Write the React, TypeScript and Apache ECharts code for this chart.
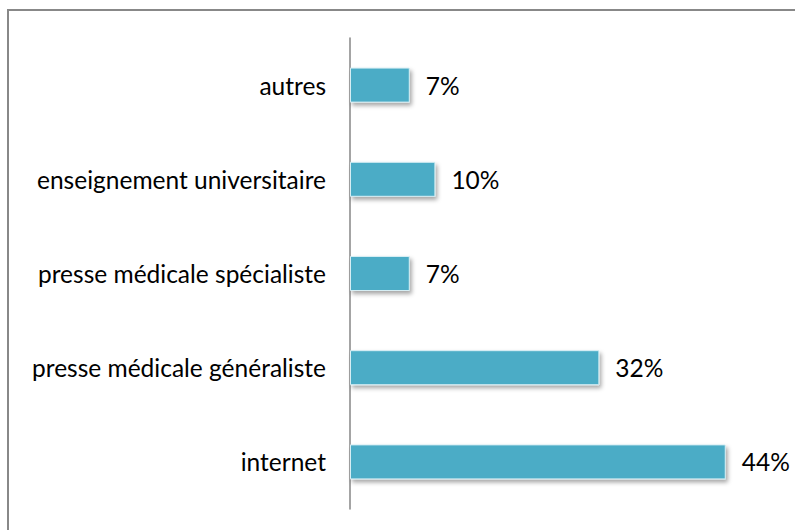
import React, { useEffect, useRef } from "react";
import * as echarts from "echarts";

const categories = [
  "internet",
  "presse médicale généraliste",
  "presse médicale spécialiste",
  "enseignement universitaire",
  "autres",
];
const barValues = [44, 29.2, 7, 10, 7];
const valueLabels = ["44%", "32%", "7%", "10%", "7%"];

export default function App() {
  const ref = useRef<HTMLDivElement>(null);
  useEffect(() => {
    const chart = echarts.init(ref.current!, null, { renderer: "svg" });
    const font = "Lato, 'Noto Sans', sans-serif";
    chart.setOption({
      animation: false,
      backgroundColor: "#ffffff",
      grid: { left: 350, top: 38, width: 427, bottom: 21 },
      xAxis: {
        type: "value",
        min: 0,
        max: 50,
        show: false,
      },
      yAxis: {
        type: "category",
        data: categories,
        axisLine: { show: true, lineStyle: { color: "#868686", width: 1.5 } },
        axisTick: { show: false },
        axisLabel: {
          color: "#000000",
          fontSize: 24.5,
          fontFamily: font,
          margin: 24,
        },
      },
      graphic: [
        {
          type: "polyline",
          shape: { points: [[8, 600], [8, 10], [800, 10]] },
          style: { stroke: "#888888", lineWidth: 2, fill: null },
          silent: true,
        },
      ],
      series: [
        {
          type: "bar",
          data: barValues,
          barWidth: 35,
          itemStyle: {
            color: "#4BACC6",
            borderColor: "#d6eef4",
            borderWidth: 1,
            shadowColor: "rgba(0,0,0,0.35)",
            shadowBlur: 4,
            shadowOffsetX: 2,
            shadowOffsetY: 3,
          },
          label: {
            show: true,
            position: "right",
            distance: 16,
            color: "#000000",
            fontSize: 24.5,
            fontFamily: font,
            formatter: (p: any) => valueLabels[p.dataIndex],
          },
        },
      ],
    });
    return () => chart.dispose();
  }, []);
  return (
    <div
      ref={ref}
      style={{ position: "fixed", left: 0, top: 0, width: 795, height: 530 }}
    />
  );
}
